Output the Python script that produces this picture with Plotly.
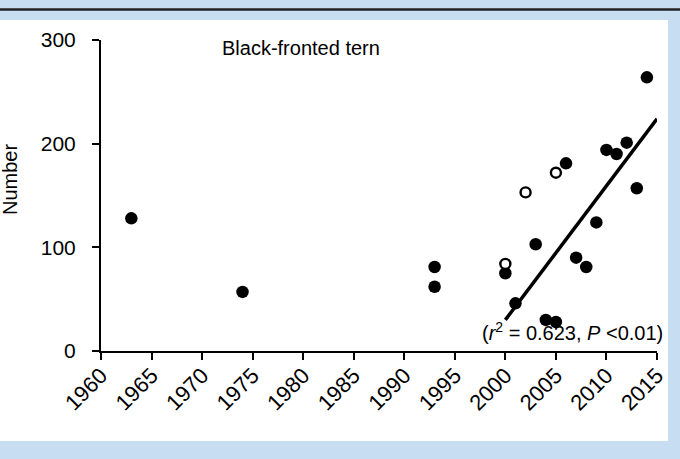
import plotly.graph_objects as go

# Data
filled_years = [1963, 1974, 1993, 1993, 2000, 2001, 2003, 2004, 2005, 2006,
                2007, 2008, 2009, 2010, 2011, 2012, 2013, 2014]
filled_counts = [128, 57, 81, 62, 75, 46, 103, 30, 28, 181,
                 90, 81, 124, 194, 190, 201, 157, 264]
open_years = [2000, 2002, 2005]
open_counts = [84, 153, 172]
trend_years = [2000, 2015]
trend_counts = [30, 224]
x_ticks = list(range(1960, 2016, 5))
y_ticks = [0, 100, 200, 300]

W, H = 680, 459
ML, MR, MT, MB = 101, 23, 40, 108
PW, PH = W - ML - MR, H - MT - MB

def px(x):
    return (x - ML) / PW

def py(y):
    return (H - MB - y) / PH

FONT = "Liberation Sans, Arial, sans-serif"
BLUE = "#C7DDF1"

fig = go.Figure()
fig.add_trace(go.Scatter(x=trend_years, y=trend_counts, mode="lines",
                         line=dict(color="black", width=3.5),
                         cliponaxis=False, showlegend=False))
fig.add_trace(go.Scatter(x=filled_years, y=filled_counts, mode="markers",
                         marker=dict(color="black", size=12.5, line=dict(width=0)),
                         cliponaxis=False, showlegend=False))
fig.add_trace(go.Scatter(x=open_years, y=open_counts, mode="markers",
                         marker=dict(color="white", size=10,
                                     line=dict(color="black", width=2.4)),
                         cliponaxis=False, showlegend=False))

fig.update_layout(
    width=W, height=H,
    margin=dict(l=ML, r=MR, t=MT, b=MB, pad=0),
    paper_bgcolor=BLUE, plot_bgcolor="white",
    font=dict(family=FONT, size=20, color="black"),
    showlegend=False,
    xaxis=dict(range=[1960, 2015], tickvals=x_ticks, ticktext=[str(v) for v in x_ticks],
               tickangle=-45, showline=True, linecolor="black", linewidth=2,
               ticks="outside", ticklen=7, tickwidth=2, tickcolor="black",
               showgrid=False, zeroline=False, tickfont=dict(size=22),
               ticklabelstandoff=-6),
    yaxis=dict(range=[0, 300], tickvals=y_ticks, showline=True, linecolor="black",
               linewidth=2, ticks="outside", ticklen=7, tickwidth=2,
               tickcolor="black", showgrid=False, zeroline=False,
               tickfont=dict(size=21), ticklabelstandoff=12),
    shapes=[
        dict(type="rect", xref="paper", yref="paper", x0=px(0), x1=px(668),
             y0=py(441), y1=py(20), fillcolor="white", line=dict(width=0),
             layer="below"),
        dict(type="line", xref="paper", yref="paper", x0=px(0), x1=px(W),
             y0=py(9.5), y1=py(9.5), line=dict(color="#222222", width=2.5)),
    ],
    annotations=[
        dict(text="Black-fronted tern", xref="paper", yref="paper",
             x=px(220), y=py(48), xanchor="left", yanchor="middle",
             showarrow=False, font=dict(size=20)),
        dict(text="Number", xref="paper", yref="paper", x=px(10), y=py(180),
             xanchor="center", yanchor="middle", textangle=-90,
             showarrow=False, font=dict(size=20)),
        dict(text="(<i>r</i><sup>2</sup> = 0.623, <i>P</i> &lt;0.01)",
             xref="paper", yref="paper", x=px(665), y=py(331),
             xanchor="right", yanchor="middle", showarrow=False,
             font=dict(size=20)),
    ],
)

fig.write_html("out.html")
